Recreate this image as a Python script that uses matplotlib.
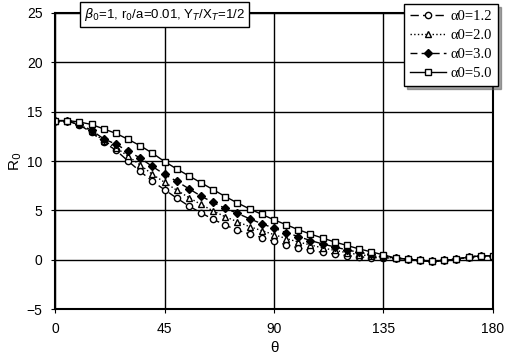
import numpy as np
from matplotlib import pyplot as plt

theta = list(range(0, 181, 5))

tail = [0.17, 0.07, -0.07, -0.17, -0.07, 0.07, 0.27, 0.4, 0.4]

r_a12 = [14.1, 14.05, 13.65, 12.9, 11.9, 11.1, 10.0, 8.95, 7.95, 7.1, 6.25, 5.45,
         4.75, 4.1, 3.5, 3.0, 2.6, 2.25, 1.86, 1.52, 1.2, 0.95, 0.75, 0.58, 0.42,
         0.3, 0.22, 0.2] + tail
r_a20 = [14.1, 14.05, 13.7, 13.0, 12.05, 11.35, 10.5, 9.6, 8.65, 7.85, 7.05, 6.3,
         5.6, 4.95, 4.35, 3.85, 3.35, 2.95, 2.55, 2.15, 1.8, 1.5, 1.2, 0.95, 0.72,
         0.52, 0.38, 0.28] + tail
r_a30 = [14.1, 14.05, 13.75, 13.1, 12.25, 11.7, 11.0, 10.3, 9.45, 8.65, 7.95, 7.2,
         6.45, 5.8, 5.2, 4.7, 4.15, 3.65, 3.2, 2.75, 2.35, 1.95, 1.6, 1.3, 1.0,
         0.75, 0.55, 0.35] + tail
r_a50 = [14.1, 14.1, 13.95, 13.7, 13.25, 12.8, 12.2, 11.55, 10.8, 9.95, 9.2, 8.5,
         7.8, 7.1, 6.4, 5.75, 5.15, 4.6, 4.05, 3.55, 3.05, 2.6, 2.2, 1.8, 1.45,
         1.1, 0.8, 0.5] + tail

labels = ['\u03b10=1.2', '\u03b10=2.0', '\u03b10=3.0', '\u03b10=5.0']

plt.rcParams['font.family'] = ['Liberation Sans', 'DejaVu Sans']

fig = plt.figure(figsize=(5.05, 3.57), dpi=100)
ax = fig.add_axes([0.109, 0.134, 0.867, 0.830])

ax.plot(theta, r_a12, color='black', lw=1, ls=(0, (6, 3)), marker='o', ms=4.5,
        mfc='white', mec='black', mew=1, label=labels[0])
ax.plot(theta, r_a20, color='black', lw=1, ls=':', marker='^', ms=4.5,
        mfc='white', mec='black', mew=1, label=labels[1])
ax.plot(theta, r_a30, color='black', lw=1, ls=(0, (5, 3)), marker='D', ms=4,
        mfc='black', mec='black', label=labels[2])
ax.plot(theta, r_a50, color='black', lw=1, ls='-', marker='s', ms=4.5,
        mfc='white', mec='black', mew=1, label=labels[3])

ax.set_xlim(0, 180)
ax.set_ylim(-5, 25)
ax.set_xticks([0, 45, 90, 135, 180])
ax.set_yticks(range(-5, 26, 5))
ax.grid(True, color='black', lw=1)
ax.set_axisbelow(True)
for s in ax.spines.values():
    s.set_linewidth(1.5)
ax.tick_params(direction='out', length=3, labelsize=10, pad=6)

ax.set_xlabel('\u03b8', fontsize=11)
ax.set_ylabel('R$_0$', fontsize=11, labelpad=2)

ax.text(0.065, 0.995, r'$\beta_0$=1, r$_0$/a=0.01, Y$_T$/X$_T$=1/2',
        transform=ax.transAxes, fontsize=9.5, va='center', ha='left',
        bbox=dict(boxstyle='square,pad=0.3', fc='white', ec='black', lw=1),
        zorder=10)

leg = ax.legend(loc='upper right', bbox_to_anchor=(1.012, 1.03), frameon=True,
                fancybox=False, shadow=True, edgecolor='black', framealpha=1,
                prop={'family': 'Liberation Serif', 'size': 10.5},
                handlelength=2.5, handletextpad=0.3, borderpad=0.4,
                labelspacing=0.4, borderaxespad=0)
leg.get_frame().set_linewidth(1)
leg.set_zorder(10)

fig.savefig('out.png', dpi=100)
